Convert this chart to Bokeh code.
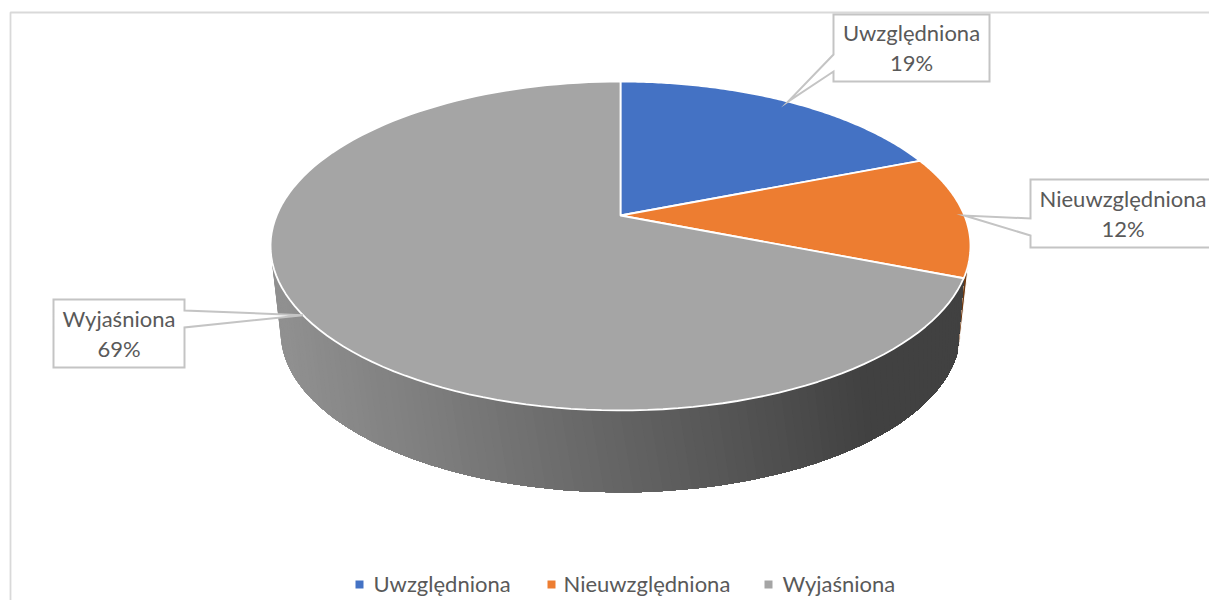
import numpy as np
from bokeh.plotting import figure
from bokeh.models import Range1d
from bokeh.core.properties import value
from bokeh.embed import file_html
from bokeh.resources import INLINE

categories = ["Uwzględniona", "Nieuwzględniona", "Wyjaśniona"]
shares = [19, 12, 69]
tick_labels = ["19%", "12%", "69%"]
colors = ["#4472C4", "#ED7D31", "#A5A5A5"]

FONT = value("Lato")
TEXT = "#595959"
SIZE = "22px"
BOX = "#c4c4c4"

# perspective projection of the pie
K = 0.1854
CX = 620.0


def top(theta):
    u, v = np.sin(theta), np.cos(theta)
    d = 1 + K * v
    return CX + 343.9 * u / d, 215 - 158.8 * v / d


def low(theta):
    u, v = np.sin(theta), np.cos(theta)
    d = 1 + K * v
    return CX + 334.0 * u / d, 301.5 - 155.0 * v / d


cum = np.concatenate([[0], np.cumsum(shares)]) / sum(shares) * 2 * np.pi
mids = (cum[:-1] + cum[1:]) / 2

p = figure(width=1209, height=600, output_backend="svg", toolbar_location=None,
           x_range=Range1d(0, 1209), y_range=Range1d(600, 0),
           min_border=0, outline_line_color=None, background_fill_color="white",
           border_fill_color="white")
p.axis.visible = False
p.grid.visible = False

# chart frame
p.line([10, 10, 1209], [600, 12, 12], line_color="#d9d9d9", line_width=1.8)

# side wall: orange sliver
b = cum[2]
ts = np.linspace(b, b - np.radians(5), 6)
tb = np.linspace(b - np.radians(3.6), b - np.radians(8.5), 6)
xt, yt = top(ts)
xb, yb = low(tb)
p.patch(np.r_[xt, xb[::-1]], np.r_[yt, yb[::-1]], fill_color="#6f3a12",
        line_color="white", line_width=1)


def wall_shade(x):
    return np.interp(x, [280, 450, 620, 760, 860, 960], [0x90, 0x7a, 0x63, 0x50, 0x41, 0x41])


# side wall: gradient of the grey slice, painted back to front so strips overlap
start = 2 * np.pi - np.arccos(-K)
n = 110
th_top = np.linspace(start, b, n + 1)
th_low = np.linspace(start, b - np.radians(3.6), n + 1)
x_top, y_top = top(th_top)
x_low, y_low = low(th_low)
for i in range(n):
    # theta runs from the left end, under the front, to the right end
    g = int(round(wall_shade((x_top[i] + x_top[i + 1]) / 2)))
    c = f"#{g:02x}{g:02x}{g:02x}"
    p.patch(np.r_[x_top[i:], x_low[i:][::-1]], np.r_[y_top[i:], y_low[i:][::-1]],
            fill_color=c, line_color=None)

# top face
for i in range(3):
    th = np.linspace(cum[i], cum[i + 1], 120)
    x, y = top(th)
    p.patch(np.r_[CX, x], np.r_[215, y], fill_color=colors[i],
            line_color="white", line_width=1.8)

# callouts
boxes = [(833, 989, 14, 81, 911), (1030, 1232, 179, 247, 1122.5), (53, 184, 299, 367, 118.5)]
stubs = [(54, 71), (218, 235), (310, 327)]
for i, (l, r, t, bt, tx) in enumerate(boxes):
    s0, s1 = stubs[i]
    tipx, tipy = top(mids[i])
    tipx, tipy = float(tipx), float(tipy)
    if i == 2:
        xs = [l, r, r, tipx, r, r, l]
        ys = [t, t, s0, tipy, s1, bt, bt]
    else:
        xs = [l, l, tipx, l, l, r, r]
        ys = [t, s0, tipy, s1, bt, bt, t]
    p.patch(xs, ys, fill_color="white", line_color=BOX, line_width=2, line_join="miter")
    mid = (t + bt) / 2
    p.text([tx], [mid - 15.5], text=[categories[i]], text_font=FONT, text_font_size=SIZE,
           text_color=TEXT, text_align="center", text_baseline="middle")
    p.text([tx], [mid + 14.5], text=[tick_labels[i]], text_font=FONT, text_font_size=SIZE,
           text_color=TEXT, text_align="center", text_baseline="middle")

# legend
mark_x = [359, 551, 768]
text_x = [373, 563, 782]
for i in range(3):
    p.scatter([mark_x[i]], [584], marker="square", size=8, fill_color=colors[i], line_color=None)
    p.text([text_x[i]], [583], text=[categories[i]], text_font=FONT, text_font_size=SIZE,
           text_color=TEXT, text_align="left", text_baseline="middle")

open("out.html", "w").write(file_html(p, INLINE))
